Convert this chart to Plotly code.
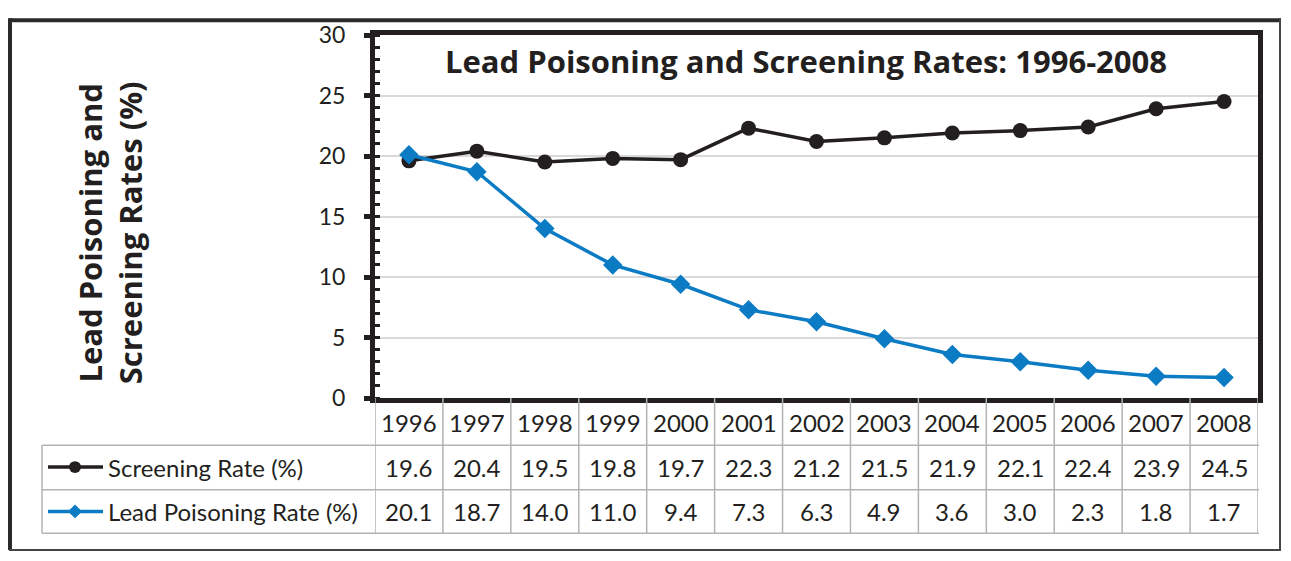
import plotly.graph_objects as go

years = [1996, 1997, 1998, 1999, 2000, 2001, 2002, 2003, 2004, 2005, 2006, 2007, 2008]
screening = [19.6, 20.4, 19.5, 19.8, 19.7, 22.3, 21.2, 21.5, 21.9, 22.1, 22.4, 23.9, 24.5]
lead = [20.1, 18.7, 14.0, 11.0, 9.4, 7.3, 6.3, 4.9, 3.6, 3.0, 2.3, 1.8, 1.7]
series_names = ["Screening Rate (%)", "Lead Poisoning Rate (%)"]
y_ticks = [0, 5, 10, 15, 20, 25, 30]

BLACK = "#231f20"
BLUE = "#0b7bc4"
GRID = "#b3b3b3"
FONT = "Lato"

# page geometry in screen pixels (page has an 8px body margin)
OFF = 8
W, H = 1291 - OFF, 561 - 2 * OFF
L, R, T, B = 375, 1258, 30, 398


def px(x):
    return (x - L) / (R - L)


def py(y):
    return (B - y) / (B - T)


fig = go.Figure()
fig.add_trace(go.Scatter(x=years, y=screening, name=series_names[0], mode="lines+markers",
                         line=dict(color=BLACK, width=3.5),
                         marker=dict(symbol="circle", size=15, color=BLACK)))
fig.add_trace(go.Scatter(x=years, y=lead, name=series_names[1], mode="lines+markers",
                         line=dict(color=BLUE, width=3.5),
                         marker=dict(symbol="diamond", size=15, color=BLUE)))

shapes = []
annotations = []


def hline(x0, x1, y, color, width):
    shapes.append(dict(type="line", xref="paper", yref="paper", x0=px(x0), x1=px(x1), y0=py(y), y1=py(y),
                       line=dict(color=color, width=width)))


def vline(x, y0, y1, color, width):
    shapes.append(dict(type="line", xref="paper", yref="paper", x0=px(x), x1=px(x), y0=py(y0), y1=py(y1),
                       line=dict(color=color, width=width)))


# outer frame
hline(9, 1281, 15, "#2a2a2a", 4)
vline(10, 13, 552, "#2a2a2a", 4)
vline(1280, 13, 552, "#444", 2)
hline(9, 1281, 552, "#444", 2)

# data table grid
for yy in [446, 491, 535]:
    hline(42, R + 1, yy, GRID, 1.5)
vline(42, 446, 535, GRID, 1.5)
for k in range(len(years) + 1):
    xb = years[0] - 0.5 + k
    shapes.append(dict(type="line", xref="x", yref="paper", x0=xb, x1=xb, y0=py(B), y1=py(535),
                       line=dict(color=GRID, width=1.5)))


def text(x, y, s, size, xref="paper", xanchor="center", family=FONT, angle=0):
    annotations.append(dict(x=x, y=py(y), xref=xref, yref="paper", text=s, showarrow=False,
                            xanchor=xanchor, yanchor="middle", textangle=angle,
                            font=dict(size=size, color=BLACK, family=family)))


# year header and values
row_y = [423, 468, 513]
for k, yr in enumerate(years):
    text(yr, row_y[0], str(yr), 24, xref="x")
    text(yr, row_y[1], f"{screening[k]:.1f}", 24, xref="x")
    text(yr, row_y[2], f"{lead[k]:.1f}", 24, xref="x")

# legend keys inside the table
for name, color, yy, sym in [(series_names[0], BLACK, row_y[1], "circle"),
                             (series_names[1], BLUE, row_y[2], "diamond")]:
    hline(48, 103, yy, color, 3.5)
    if sym == "circle":
        shapes.append(dict(type="circle", xref="paper", yref="paper", x0=px(69), x1=px(81), y0=py(yy - 6),
                           y1=py(yy + 6), fillcolor=color, line=dict(color=color, width=0)))
    else:
        cx, cy = 75, yy
        path = (f"M {px(cx - 7)} {py(cy)} L {px(cx)} {py(cy - 7)} L {px(cx + 7)} {py(cy)} "
                f"L {px(cx)} {py(cy + 7)} Z")
        shapes.append(dict(type="path", xref="paper", yref="paper", path=path, fillcolor=color,
                           line=dict(color=color, width=0)))
    text(px(106), yy, name, 24, xanchor="left")

# title
text(px(806), 56, "<b>Lead Poisoning and Screening Rates: 1996-2008</b>", 31, family="Open Sans")

# y-axis title
text(px(110), 231, "<b>Lead Poisoning and<br>Screening Rates (%)</b>", 31, family="Open Sans", angle=-90)

fig.update_layout(
    width=W, height=H,
    margin=dict(l=L - OFF, r=W - (R - OFF), t=T - OFF, b=H - (B - OFF)),
    paper_bgcolor="white", plot_bgcolor="white",
    showlegend=False,
    shapes=shapes, annotations=annotations,
    xaxis=dict(range=[years[0] - 0.5, years[-1] + 0.5], showticklabels=False, showgrid=False,
               zeroline=False, showline=True, mirror=True, linecolor=BLACK, linewidth=5, ticks=""),
    yaxis=dict(range=[0, 30], tickvals=y_ticks, showgrid=True, gridcolor="#d9d9d9", gridwidth=1.5,
               zeroline=False, showline=True, mirror=True, linecolor=BLACK, linewidth=5,
               ticks="outside", ticklen=6, tickwidth=5, tickcolor=BLACK, ticklabelstandoff=14,
               tickfont=dict(size=23, color=BLACK, family=FONT),
               minor=dict(ticks="inside", dtick=1, ticklen=5, tickwidth=3, tickcolor=BLACK, showgrid=False)),
)

fig.write_html("out.html")
